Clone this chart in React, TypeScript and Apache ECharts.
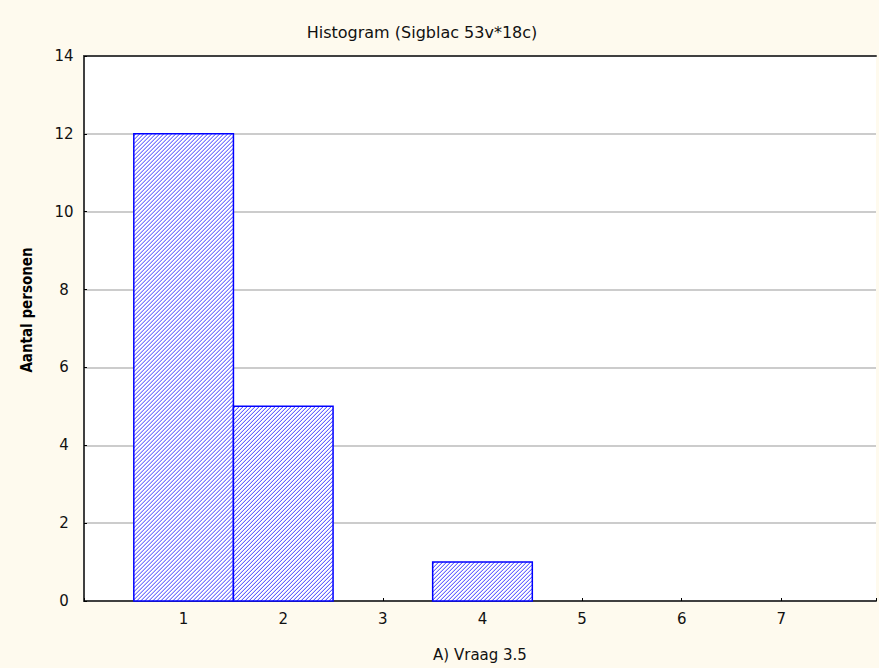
import React, { useEffect, useRef } from "react";
import * as echarts from "echarts";

const titleText = "Histogram (Sigblac 53v*18c)";
const xName = "A) Vraag 3.5";
const yName = "Aantal personen";
const classes = [1, 2, 3, 4, 5, 6, 7];
const counts = [12, 5, 0, 1, 0, 0, 0];
const yTicks = [0, 2, 4, 6, 8, 10, 12, 14];

const FONT = "DejaVu Sans, Liberation Sans, sans-serif";

function hatchLines(x0: number, y0: number, x1: number, y1: number, step: number) {
  const out: any[] = [];
  const kMin = x0 + y0;
  const kMax = x1 + y1;
  for (let k = kMin + step / 2; k < kMax; k += step) {
    const xs = Math.max(x0, k - y1);
    const xe = Math.min(x1, k - y0);
    if (xe <= xs) continue;
    out.push({
      type: "line",
      shape: { x1: xs, y1: k - xs, x2: xe, y2: k - xe },
      style: { stroke: "#3a3aff", lineWidth: 1 },
      silent: true,
    });
  }
  return out;
}

export default function App() {
  const ref = useRef<HTMLDivElement>(null);
  useEffect(() => {
    document.body.style.margin = "0";
    const chart = echarts.init(ref.current!, undefined, { renderer: "svg" });
    const data = classes.map((c, i) => [c, counts[i]]);
    chart.setOption({
      animation: false,
      backgroundColor: "#fefaee",
      textStyle: { fontFamily: FONT },
      title: {
        text: titleText,
        left: 417,
        top: 19,
        textAlign: "center",
        textStyle: { fontSize: 16, fontWeight: "normal", color: "#111", fontFamily: FONT },
      },
      graphic: [
        {
          type: "text",
          x: 27,
          y: 310,
          rotation: Math.PI / 2,
          style: {
            text: yName,
            fontSize: 15,
            fontWeight: "bold",
            fontFamily: "DejaVu Sans Condensed, DejaVu Sans, sans-serif",
            fill: "#000",
            align: "center",
            verticalAlign: "middle",
          },
        },
      ],
      grid: {
        left: 84,
        top: 56,
        right: 0,
        bottom: 67,
        show: true,
        backgroundColor: "#ffffff",
        borderWidth: 0,
      },
      xAxis: [
        {
          type: "value",
          min: 0,
          max: 7.95,
          interval: 1,
          name: xName,
          nameLocation: "middle",
          nameGap: 46,
          nameTextStyle: { fontSize: 15, color: "#111", fontFamily: FONT },
          axisLine: { show: true, onZero: false, lineStyle: { color: "#404040", width: 2 } },
          axisTick: { show: true, inside: true, length: 3, lineStyle: { color: "#000" } },
          splitLine: { show: false },
          axisLabel: {
            fontSize: 15,
            color: "#111",
            margin: 10,
            fontFamily: FONT,
            formatter: (v: number) => (classes.includes(v) ? String(v) : ""),
          },
        },
        {
          type: "value",
          position: "top",
          min: 0,
          max: 7.95,
          axisLine: { show: true, onZero: false, lineStyle: { color: "#404040", width: 2 } },
          axisTick: { show: false },
          axisLabel: { show: false },
          splitLine: { show: false },
        },
      ],
      yAxis: {
        type: "value",
        min: 0,
        max: 14,
        interval: 2,
        axisLine: { show: true, onZero: false, lineStyle: { color: "#404040", width: 2 } },
        axisTick: { show: true, inside: true, length: 3, lineStyle: { color: "#000" } },
        splitLine: { show: true, lineStyle: { color: "#cccccc", width: 2 } },
        axisLabel: {
          fontSize: 15,
          color: "#111",
          margin: 20,
          align: "center",
          fontFamily: FONT,
          formatter: (v: number) => (yTicks.includes(v) ? String(v) : ""),
        },
      },
      series: [
        {
          type: "custom",
          data,
          xAxisIndex: 0,
          encode: { x: 0, y: 1 },
          renderItem: (params: any, api: any) => {
            const c = api.value(0);
            const v = api.value(1);
            if (!v) return null;
            const p0 = api.coord([c - 0.5, v]);
            const p1 = api.coord([c + 0.5, 0]);
            const x0 = p0[0];
            const y0 = p0[1];
            const x1 = p1[0];
            const y1 = p1[1];
            return {
              type: "group",
              children: [
                {
                  type: "rect",
                  shape: { x: x0, y: y0, width: x1 - x0, height: y1 - y0 },
                  style: { fill: "#ffffff" },
                },
                ...hatchLines(x0, y0, x1, y1, 4),
                {
                  type: "rect",
                  shape: { x: x0, y: y0, width: x1 - x0, height: y1 - y0 },
                  style: { fill: "none", stroke: "#0000ff", lineWidth: 1.5 },
                },
              ],
            };
          },
        },
      ],
    });
    return () => chart.dispose();
  }, []);
  return <div ref={ref} style={{ width: 879, height: 668 }} />;
}
